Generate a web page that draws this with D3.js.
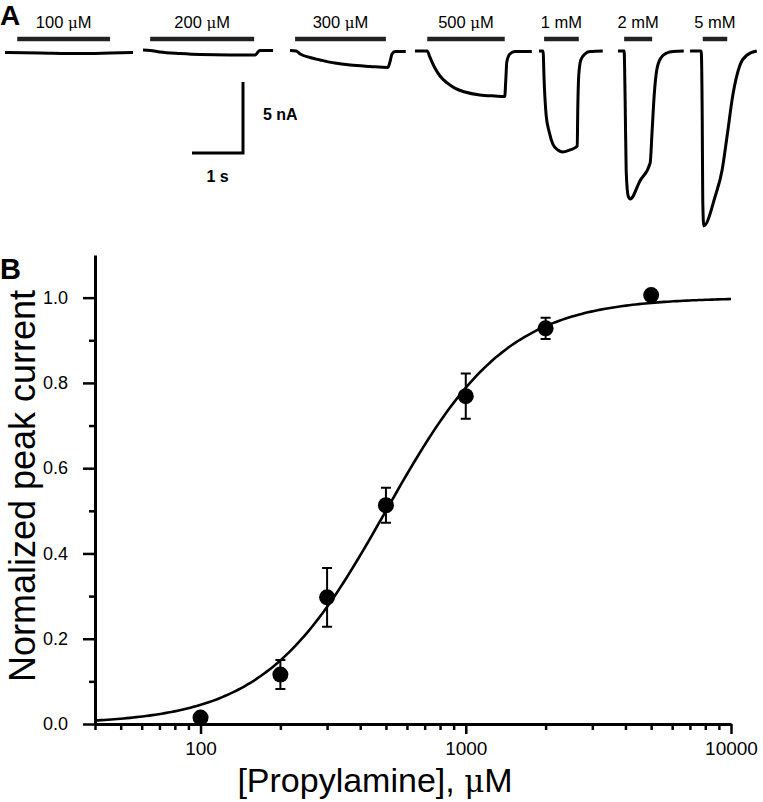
<!DOCTYPE html>
<html>
<head>
<meta charset="utf-8">
<script src="https://cdn.jsdelivr.net/npm/d3@7"></script>
<style>
  html, body { margin: 0; padding: 0; background: #fff; }
  svg { display: block; font-family: "Liberation Sans", Arial, sans-serif; }
</style>
</head>
<body>
<svg id="chart" width="763" height="802"></svg>
<script>
'use strict';

/*==============================
=            Data              =
==============================*/

// Panel A: whole-cell current traces (t in s from trace start, I in nA)
var traceLabels = ["100 \u03bcM", "200 \u03bcM", "300 \u03bcM", "500 \u03bcM", "1 mM", "2 mM", "5 mM"];
var traceTimes = [
    [0, 0.69, 1.47, 2.06, 2.51],
    [0, 0.14, 0.33, 0.73, 1.12, 1.71, 2.2, 2.24, 2.29, 2.55],
    [0, 0.12, 0.2, 0.39, 0.59, 0.88, 1.18, 1.57, 1.92, 1.96, 2.0, 2.06, 2.27],
    [0, 0.24, 0.29, 0.39, 0.49, 0.63, 0.78, 0.98, 1.27, 1.57, 1.76, 1.78, 1.8, 1.86, 1.96, 2.29],
    [0, 0.08, 0.1, 0.14, 0.2, 0.27, 0.37, 0.47, 0.61, 0.75, 0.76, 0.78, 0.82, 0.9, 1.0, 1.25],
    [0, 0.12, 0.14, 0.16, 0.2, 0.24, 0.43, 0.63, 0.67, 0.71, 0.76, 0.84, 0.96, 1.08, 1.29],
    [0, 0.22, 0.24, 0.25, 0.27, 0.49, 0.63, 0.73, 0.84, 0.98, 1.12, 1.31]
];
var traceCurrents = [
    [-0.1, -0.14, -0.18, -0.14, -0.1],
    [0.07, 0.04, -0.07, -0.18, -0.25, -0.28, -0.28, -0.14, 0.04, 0.04],
    [0.04, 0, -0.21, -0.46, -0.63, -0.85, -0.99, -1.09, -1.16, -0.77, -0.21, -0.04, -0.04],
    [0, 0, -0.42, -1.2, -1.76, -2.25, -2.61, -2.89, -3.1, -3.17, -3.2, -2.04, -0.77, -0.21, -0.04, -0.04],
    [0, 0, -2.04, -4.51, -5.7, -6.55, -6.97, -7.11, -6.97, -6.69, -4.15, -1.69, -0.63, -0.21, -0.04, 0],
    [0, 0, -3.45, -8.38, -10.21, -10.42, -9.15, -7.89, -5.56, -3.1, -1.34, -0.49, -0.14, -0.04, 0],
    [0, 0, -4.86, -10.49, -12.32, -10.28, -8.38, -5.92, -3.1, -0.99, -0.28, 0]
];
// agonist application (s from trace start)
var appOn  = [0.24, 0.14, 0.1, 0.24, 0.1, 0.12, 0.25];
var appOff = [2.06, 2.18, 1.88, 1.76, 0.78, 0.67, 0.73];

// Panel B: dose-response
var concentrations = [100, 200, 300, 500, 1000, 2000, 5000];
var meanCurrent    = [0.015, 0.116, 0.297, 0.513, 0.769, 0.928, 1.006];
var semCurrent     = [0, 0.034, 0.069, 0.041, 0.053, 0.025, 0];
var fitEC50 = 500;
var fitHill = 1.9;

var xMajorTicks = [100, 1000, 10000];
var xMinorTicks = [40, 50, 60, 70, 80, 90, 200, 300, 400, 500, 600, 700, 800, 900,
                   2000, 3000, 4000, 5000, 6000, 7000, 8000, 9000];
var yMajorTicks = [0, 0.2, 0.4, 0.6, 0.8, 1.0];
var yMinorTicks = [0.1, 0.3, 0.5, 0.7, 0.9];

/*=====  End of Data  ======*/

var svg = d3.select("#chart");

/*==============================
=          Panel A             =
==============================*/

// layout of the traces (px)
var traceX = [5, 143, 290, 415, 539, 618, 690];
var baseY = 51;

var tScale = d3.scaleLinear().domain([0, 1]).range([0, 51]);   // 51 px per s
var iScale = d3.scaleLinear().domain([0, -5]).range([0, 71]);  // 71 px per 5 nA

var line = d3.line()
    .curve(d3.curveMonotoneX)
    .x(function (d) { return tScale(d[0]); })
    .y(function (d) { return iScale(d[1]); });

traceLabels.forEach(function (lab, k) {
    var g = svg.append("g")
        .attr("transform", "translate(" + traceX[k] + "," + baseY + ")");

    var pts = d3.zip(traceTimes[k], traceCurrents[k]);
    g.append("path")
        .attr("d", line(pts))
        .attr("fill", "none")
        .attr("stroke", "#000")
        .attr("stroke-width", 3)
        .attr("stroke-linejoin", "round");

    g.append("line")
        .attr("x1", tScale(appOn[k])).attr("x2", tScale(appOff[k]))
        .attr("y1", -12).attr("y2", -12)
        .attr("stroke", "#222").attr("stroke-width", 4.5);

    var parts = lab.split("\u03bc");
    var t = g.append("text")
        .attr("x", tScale((appOn[k] + appOff[k]) / 2))
        .attr("y", -23)
        .attr("text-anchor", "middle")
        .style("font-size", "16.5px")
        .text(parts[0]);
    if (parts.length > 1) {
        t.append("tspan").style("font-family", "'DejaVu Serif', serif").style("font-size", "15px").text("\u03bc");
        t.append("tspan").text(parts[1]);
    }
});

// scale bar: 1 s, 5 nA
var sb = svg.append("g").attr("transform", "translate(243,153)");
sb.append("path")
    .attr("d", "M" + (-tScale(1)) + ",0H0V" + (-iScale(-5)))
    .attr("fill", "none").attr("stroke", "#000").attr("stroke-width", 3);
sb.append("text").attr("x", 20).attr("y", -33)
    .style("font-size", "16px").style("font-weight", "bold").text("5 nA");
sb.append("text").attr("x", -tScale(0.5)).attr("y", 29).attr("text-anchor", "middle")
    .style("font-size", "16px").style("font-weight", "bold").text("1 s");

svg.append("text").attr("x", 0).attr("y", 25)
    .style("font-size", "28px").style("font-weight", "bold").text("A");

/*==============================
=          Panel B             =
==============================*/

var x = d3.scaleLog().domain([40, 10000]).range([95, 731]);
var y = d3.scaleLinear().domain([0, 1.1]).range([724, 255]);

function styleAxis(g) {
    g.select(".domain").attr("stroke-width", 3);
    g.selectAll(".tick line").attr("stroke-width", 2.5);
    g.selectAll(".tick text")
        .style("font-family", "'Liberation Sans', Arial, sans-serif")
        .attr("fill", "#000");
}

// x axis
svg.append("g")
    .attr("transform", "translate(0,724)")
    .call(d3.axisBottom(x).tickValues(xMinorTicks).tickSize(6).tickSizeOuter(0).tickFormat(""))
    .call(styleAxis);
svg.append("g")
    .attr("transform", "translate(0,724)")
    .call(d3.axisBottom(x).tickValues(xMajorTicks).tickSize(10).tickSizeOuter(0).tickPadding(8)
        .tickFormat(d3.format("d")))
    .call(styleAxis)
    .call(function (g) { g.selectAll(".tick text").style("font-size", "19px"); g.select(".domain").remove(); });

// y axis
svg.append("g")
    .attr("transform", "translate(95,0)")
    .call(d3.axisLeft(y).tickValues(yMinorTicks).tickSize(6).tickSizeOuter(0).tickFormat(""))
    .call(styleAxis);
svg.append("g")
    .attr("transform", "translate(95,0)")
    .call(d3.axisLeft(y).tickValues(yMajorTicks).tickSize(12).tickSizeOuter(0).tickPadding(15)
        .tickFormat(d3.format(".1f")))
    .call(styleAxis)
    .call(function (g) { g.selectAll(".tick text").style("font-size", "18px"); g.select(".domain").remove(); });

// fitted Hill curve
var hill = function (c) { return 1 / (1 + Math.pow(fitEC50 / c, fitHill)); };
var fitX = d3.range(0, 201).map(function (i) { return 40 * Math.pow(10000 / 40, i / 200); });
svg.append("path")
    .attr("d", d3.line().x(function (c) { return x(c); }).y(function (c) { return y(hill(c)); })(fitX))
    .attr("fill", "none").attr("stroke", "#000").attr("stroke-width", 2.6);

// error bars
var eb = svg.append("g").attr("stroke", "#000").attr("stroke-width", 2);
concentrations.forEach(function (c, i) {
    if (!semCurrent[i]) return;
    var cx = x(c), y0 = y(meanCurrent[i] - semCurrent[i]), y1 = y(meanCurrent[i] + semCurrent[i]);
    eb.append("path").attr("fill", "none")
        .attr("d", "M" + cx + "," + y0 + "V" + y1 +
                   "M" + (cx - 5) + "," + y0 + "H" + (cx + 5) +
                   "M" + (cx - 5) + "," + y1 + "H" + (cx + 5));
});

svg.append("g").selectAll("circle")
    .data(concentrations)
    .join("circle")
        .attr("cx", function (c) { return x(c); })
        .attr("cy", function (c, i) { return y(meanCurrent[i]); })
        .attr("r", 8)
        .attr("fill", "#000");

// axis titles
svg.append("text")
    .attr("transform", "translate(35,486) rotate(-90)")
    .attr("text-anchor", "middle")
    .style("font-size", "36px")
    .text("Normalized peak current");

var xt = svg.append("text")
    .attr("x", 375).attr("y", 792)
    .attr("text-anchor", "middle")
    .style("font-size", "34px")
    .text("[Propylamine], ");
xt.append("tspan").style("font-family", "'DejaVu Serif', serif").style("font-size", "31px").text("\u03bc");
xt.append("tspan").text("M");

svg.append("text").attr("x", 0).attr("y", 279)
    .style("font-size", "29px").style("font-weight", "bold").text("B");
</script>
</body>
</html>
